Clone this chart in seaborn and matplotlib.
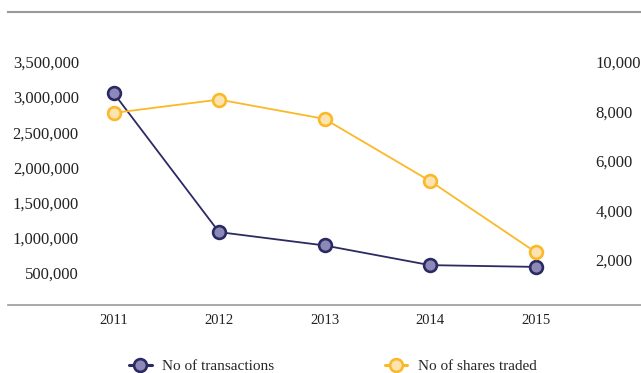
import matplotlib
matplotlib.use("Agg")
import matplotlib.pyplot as plt
import matplotlib.ticker as mticker
from matplotlib.lines import Line2D
import pandas as pd
import seaborn as sns

years = [2011, 2012, 2013, 2014, 2015]
transactions = [3060000, 1080000, 890000, 610000, 585000]
shares_traded = [7940, 8480, 7700, 5190, 2320]
left_ticks = [500000, 1000000, 1500000, 2000000, 2500000, 3000000, 3500000]
right_ticks = [2000, 4000, 6000, 8000, 10000]

navy, navy_face = "#2b2a63", "#8c88b8"
gold, gold_face = "#fbb829", "#fde3b0"
rule = "#9a9a9a"

sns.set_style("white")
plt.rcParams["font.family"] = ["Liberation Serif", "DejaVu Serif"]

df = pd.DataFrame({"year": years, "transactions": transactions, "shares": shares_traded})

fig = plt.figure(figsize=(6.41, 3.73), dpi=100)
ax = fig.add_axes([0.0125, 0.1823, 0.9875, 0.7855])
ax2 = ax.twinx()

mk = dict(marker="o", markersize=9.2, markeredgewidth=1.9)
sns.lineplot(data=df, x="year", y="transactions", ax=ax, color=navy, linewidth=1.3,
             markerfacecolor=navy_face, markeredgecolor=navy, zorder=3, **mk)
sns.lineplot(data=df, x="year", y="shares", ax=ax2, color=gold, linewidth=1.3,
             markerfacecolor=gold_face, markeredgecolor=gold, zorder=3, **mk)

ax.set_xlim(2010.0, 2016.0)
ax.set_ylim(43000, 4210000)
ax2.set_ylim(180, 12018)

ax.set_xticks(years)
ax.set_yticks(left_ticks)
ax2.set_yticks(right_ticks)
fmt = mticker.FuncFormatter(lambda v, p: f"{int(v):,}")
ax.yaxis.set_major_formatter(fmt)
ax2.yaxis.set_major_formatter(fmt)

ax.set_xlabel("")
ax.set_ylabel("")
ax2.set_ylabel("")
ax.grid(False)
ax2.grid(False)

for a in (ax, ax2):
    for s in ("left", "right", "top", "bottom"):
        a.spines[s].set_visible(False)
ax.spines["top"].set_visible(True)
ax.spines["top"].set_color(rule)
ax.spines["top"].set_linewidth(1.5)
ax.spines["bottom"].set_visible(True)
ax.spines["bottom"].set_color(rule)
ax.spines["bottom"].set_linewidth(1.2)

ax.tick_params(axis="x", length=0, pad=6.5, labelsize=10.5, labelcolor="#222222")
ax.tick_params(axis="y", length=0, pad=-51, labelsize=12, labelcolor="#222222")
ax2.tick_params(axis="y", length=0, pad=-33, labelsize=12, labelcolor="#222222")

handles = [
    Line2D([], [], color=navy, linewidth=2.2, marker="o", markersize=9.2,
           markeredgewidth=1.9, markerfacecolor=navy_face, markeredgecolor=navy),
    Line2D([], [], color=gold, linewidth=2.2, marker="o", markersize=9.2,
           markeredgewidth=1.9, markerfacecolor=gold_face, markeredgecolor=gold),
]
fig.legend(handles, ["No of transactions", "No of shares traded"], loc="center left",
           bbox_to_anchor=(0.201, 0.018), ncol=2, frameon=False, fontsize=11,
           handlelength=1.5, handletextpad=0.7, columnspacing=7.2, borderpad=0,
           borderaxespad=0)

fig.savefig("out.png", dpi=100)
